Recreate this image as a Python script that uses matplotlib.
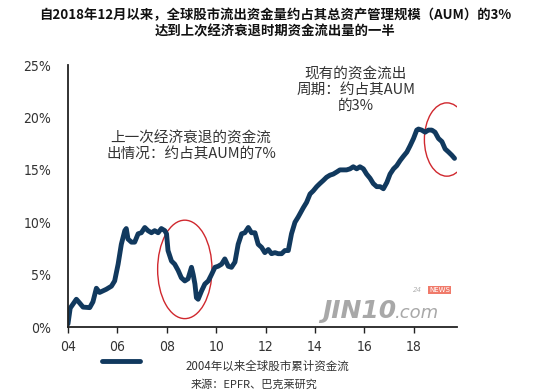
import matplotlib
matplotlib.use("Agg")
import matplotlib.pyplot as plt
from matplotlib.patches import Ellipse
from matplotlib.lines import Line2D
from matplotlib import font_manager

plt.rcParams['font.family'] = ['Noto Sans CJK SC', 'DejaVu Sans']

# cumulative global equity fund flows, % of AUM
years = [2004.00, 2004.09, 2004.34, 2004.47, 2004.61, 2004.88, 2005.01, 2005.15,
         2005.28, 2005.55, 2005.76, 2005.89, 2006.03, 2006.16, 2006.30, 2006.36,
         2006.43, 2006.57, 2006.70, 2006.84, 2006.97, 2007.11, 2007.24, 2007.38,
         2007.51, 2007.65, 2007.78, 2007.92, 2007.99, 2008.05, 2008.19, 2008.32,
         2008.46, 2008.59, 2008.73, 2008.86, 2009.00, 2009.07, 2009.14, 2009.20,
         2009.27, 2009.41, 2009.54, 2009.68, 2009.81, 2009.95, 2010.08, 2010.22,
         2010.35, 2010.49, 2010.62, 2010.76, 2010.89, 2011.03, 2011.16, 2011.30,
         2011.43, 2011.57, 2011.70, 2011.84, 2011.97, 2012.11, 2012.24, 2012.38,
         2012.51, 2012.65, 2012.78, 2012.92, 2013.05, 2013.19, 2013.32, 2013.39,
         2013.53, 2013.66, 2013.80, 2013.93, 2014.07, 2014.20, 2014.34, 2014.47,
         2014.61, 2014.74, 2014.88, 2015.01, 2015.15, 2015.28, 2015.42, 2015.55,
         2015.69, 2015.82, 2015.96, 2016.09, 2016.23, 2016.36, 2016.50, 2016.64,
         2016.77, 2016.91, 2017.04, 2017.18, 2017.31, 2017.45, 2017.58, 2017.72,
         2017.85, 2017.99, 2018.12, 2018.19, 2018.32, 2018.46, 2018.59, 2018.73,
         2018.86, 2019.00, 2019.14, 2019.27, 2019.41, 2019.54, 2019.65]
flows = [0.3, 1.8, 2.65, 2.3, 1.9, 1.85, 2.4, 3.7,
         3.3, 3.6, 3.9, 4.4, 6.0, 7.9, 9.2, 9.4,
         8.4, 8.1, 8.1, 8.9, 9.0, 9.5, 9.2, 9.0,
         9.2, 9.0, 9.4, 9.2, 8.9, 7.3, 6.3, 6.0,
         5.4, 4.7, 4.4, 4.6, 5.7, 5.0, 4.1, 2.8,
         2.65, 3.45, 4.1, 4.4, 5.0, 5.7, 5.8, 6.0,
         6.5, 5.8, 5.7, 6.2, 7.9, 8.9, 9.0, 9.5,
         9.0, 9.0, 7.9, 7.6, 7.1, 7.4, 7.0, 7.1,
         7.0, 7.0, 7.3, 7.3, 8.9, 10.0, 10.5, 10.8,
         11.4, 11.9, 12.7, 13.0, 13.4, 13.7, 14.0, 14.3,
         14.5, 14.6, 14.8, 15.0, 15.0, 15.0, 15.1, 15.3,
         15.1, 15.3, 15.1, 14.6, 14.2, 13.7, 13.4, 13.4,
         13.2, 13.8, 14.6, 15.1, 15.4, 15.9, 16.3, 16.7,
         17.3, 18.0, 18.8, 18.9, 18.8, 18.6, 18.8, 18.8,
         18.6, 18.0, 17.7, 17.0, 16.7, 16.4, 16.1]

xticks = [2004, 2006, 2008, 2010, 2012, 2014, 2016, 2018]
xlabels = ['04', '06', '08', '10', '12', '14', '16', '18']
yticks = [0, 5, 10, 15, 20, 25]
ylabels = ['0%', '5%', '10%', '15%', '20%', '25%']

title = '自2018年12月以来，全球股市流出资金量约占其总资产管理规模（AUM）的3%\n达到上次经济衰退时期资金流出量的一半'
note_past = '上一次经济衰退的资金流\n出情况：约占其AUM的7%'
note_now = '现有的资金流出\n周期：约占其AUM\n的3%'
series_name = '2004年以来全球股市累计资金流'
source = '来源：EPFR、巴克莱研究'

navy = '#11395e'
grey = '#333333'
red = '#d0282e'

# narrow font for the tick numbers if there is one
names = {f.name for f in font_manager.fontManager.ttflist}
if 'Liberation Sans Narrow' in names:
    tick_font = dict(family='Liberation Sans Narrow', fontsize=11.5)
else:
    tick_font = dict(family='DejaVu Sans', stretch='condensed', fontsize=10)

fig = plt.figure(figsize=(5.5, 3.92), dpi=100)
ax = fig.add_axes([0.1236, 0.1658, 0.7073, 0.668])

ax.plot(years, flows, color=navy, lw=3.5, solid_joinstyle='round', solid_capstyle='round')

ax.set_xlim(2004, 2019.75)
ax.set_ylim(0, 25)
ax.set_xticks(xticks)
ax.set_xticklabels(xlabels)
ax.set_yticks(yticks)
ax.set_yticklabels(ylabels)
for lab in ax.get_xticklabels() + ax.get_yticklabels():
    lab.set_family(tick_font['family'])
    lab.set_fontsize(tick_font['fontsize'])
    if 'stretch' in tick_font:
        lab.set_stretch(tick_font['stretch'])
    lab.set_color(grey)
ax.tick_params(axis='y', length=0, pad=12)
ax.tick_params(axis='x', length=4, width=1, color='#222222', pad=5, direction='out')
for s in ['top', 'right']:
    ax.spines[s].set_visible(False)
for s in ['left', 'bottom']:
    ax.spines[s].set_color('#222222')
    ax.spines[s].set_linewidth(1.3)

# red circles around the two outflow periods
ax.add_patch(Ellipse((2008.73, 5.5), 2.2, 9.4, fill=False, edgecolor=red, lw=1.0))
ax.add_patch(Ellipse((2019.34, 17.9), 1.82, 7.0, fill=False, edgecolor=red, lw=1.0))

ax.text(2008.98, 17.3, note_past, ha='center', va='center', fontsize=10.5,
        color=grey, linespacing=1.15)
ax.text(2015.66, 22.6, note_now, ha='center', va='center', fontsize=10.5,
        color=grey, linespacing=1.15)

fig.text(0.5, 0.94, title, ha='center', va='center', fontsize=9.6,
         fontweight='bold', color='#111111', linespacing=1.25)

# watermark
fig.text(0.585, 0.19, 'JIN10', fontsize=18, style='italic', fontweight='bold',
         color='#a8a8a8', family=['DejaVu Sans'])
fig.text(0.718, 0.19, '.com', fontsize=13, style='italic',
         color='#a8a8a8', family=['DejaVu Sans'])
fig.text(0.75, 0.255, '24', fontsize=5, style='italic', color='#b0b0b0',
         family=['DejaVu Sans'])
fig.text(0.78, 0.255, 'NEWS', fontsize=5, color='white', family=['DejaVu Sans'],
         bbox=dict(facecolor='#f07a6a', edgecolor='none', pad=0.6))

# legend key and caption
fig.add_artist(Line2D([0.186, 0.255], [0.079, 0.079], color=navy, lw=3.5,
                      solid_capstyle='round'))
fig.text(0.487, 0.066, series_name, ha='center', va='center', fontsize=8.3, color=grey)
fig.text(0.462, 0.018, source, ha='center', va='center', fontsize=8, color=grey)

fig.savefig('out.png', dpi=100)
